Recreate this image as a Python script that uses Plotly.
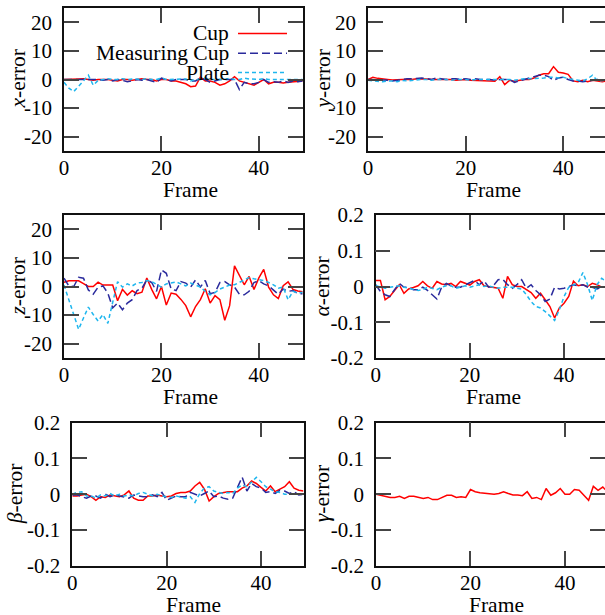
import plotly.graph_objects as go

# ---------------- data ----------------
frames = list(range(50))
series_names = ["Cup", "Measuring Cup", "Plate"]

x_cup = [0.0, 0.0, 0.0, 0.2, 0.3, 0.0, -0.3, 0.0, 0.0, 0.0, -0.3, -0.5, 0.0, 0.0, -0.3, 0.0, 0.3, 0.0, 0.0, -0.5,
         0.0, 0.0, -0.5, -0.5, -1.0, -1.5, -2.5, -2.3, 0.8, -0.5, -0.5, -1.0, -2.0, -1.5, -0.5, 1.0, -0.5, -1.0, -1.5, -2.0,
         -1.0, 0.0, -1.5, -1.0, -1.0, -1.2, -1.0, -0.8, -0.8, -0.5]
x_mcup = [0.0, 0.0, 0.0, -0.2, 0.0, 0.0, 0.0, 0.0, -0.3, 0.0, -0.5, 0.0, -0.3, -0.8, -0.5, 0.0, -0.3, 0.0, -0.5, -1.0,
          0.5, 0.0, -0.5, 0.0, 0.0, 0.0, -0.5, -0.5, 0.5, 0.0, -1.0, -0.5, 0.0, 0.0, 0.0, 0.0, -3.5, -1.0, -1.5, -1.5,
          -1.0, 0.0, -1.0, -0.8, -1.0, -0.5, -1.0, -0.5, -0.8, -0.5]
x_plate = [-1.0, -3.0, -4.2, -2.5, -0.5, 1.5, -2.0, -0.3, 0.0, 0.3, 0.0, 0.0, 0.3, 0.0, 0.2, 0.0, 0.0, 0.3, 0.0, 0.0,
           0.5, 0.0, 0.0, 0.0, 0.0, 0.2, -0.5, 0.0, 0.0, 0.5, 0.0, 0.0, 0.0, 0.0, 0.5, 0.0, 0.0, 0.5, 0.2, 0.0,
           0.0, 0.3, 0.0, 0.0, 0.0, 0.0, 0.0, 0.0, 0.0, 0.0]

y_cup = [0.0, 0.8, 0.4, 0.3, 0.0, -0.2, 0.0, 0.0, 0.0, 0.0, 0.3, 0.3, 0.2, 0.0, 0.0, 0.0, -0.2, 0.0, -0.3, -0.2,
         0.0, -0.3, -0.3, -0.3, -0.4, -0.5, -0.6, 1.0, -1.8, -0.3, -0.6, -0.3, 0.0, 0.0, 0.5, 1.5, 2.0, 2.0, 4.5, 2.5,
         2.3, 1.8, -0.5, -0.8, -0.3, -0.8, -0.3, -0.5, -0.8, -0.5]
y_mcup = [0.0, 0.0, 0.0, -0.2, -0.3, -0.5, -0.3, 0.0, 0.3, 0.3, 0.5, 0.5, 0.3, 0.0, 0.5, 0.3, 0.0, 0.3, 0.3, 0.0,
          0.3, 0.0, 0.3, 0.0, 0.0, 0.0, -0.3, 0.0, 0.0, 0.0, -1.0, -0.5, 0.0, 0.3, 0.8, 1.5, 1.5, 1.0, -0.3, 0.5,
          0.8, 0.0, -0.5, -0.5, -0.8, -0.5, -0.3, 0.0, -0.3, -0.3]
y_plate = [-0.3, -0.5, -0.8, -0.8, -0.5, -0.5, -0.8, -0.3, -0.5, -0.3, -0.3, 0.0, 0.0, -0.3, 0.0, 0.0, 0.0, -0.3, 0.0, 0.0,
           0.0, -0.3, 0.0, 0.0, 0.0, 0.0, 0.0, 0.0, 0.0, 0.0, -0.3, 0.0, 0.3, 0.3, 0.3, 0.5, 0.5, 0.8, 0.8, 0.5,
           0.8, 0.3, 0.0, -0.3, -0.5, 0.3, 1.5, -0.5, -0.3, -0.3]

z_cup = [1.5, 2.0, 2.0, 2.0, 1.0, 0.0, 0.0, 1.5, 0.5, 0.5, 0.5, -5.0, -1.0, -3.0, -1.5, -2.5, -2.0, 3.0, -1.0, -4.3,
         0.0, -6.5, -2.3, -2.7, -4.5, -6.7, -10.6, -7.0, -4.6, -0.8, -5.8, -3.2, -4.6, -11.8, -6.7, 7.2, 3.7, 0.6, 3.5, -1.0,
         3.0, 6.0, -0.2, -2.9, -4.2, 0.3, 1.6, -1.0, -1.6, -1.8]
z_mcup = [2.9, 0.2, 0.0, 3.2, 2.9, -1.2, -2.7, -0.2, 0.2, -2.3, -7.5, -5.8, -8.1, -5.8, -4.6, -1.4, -0.6, 2.3, 1.4, -1.7,
          5.8, 4.6, -0.9, -1.4, 1.7, 1.2, -0.2, 2.3, -0.2, 2.1, -2.5, -2.1, 1.4, 1.7, 0.6, -0.2, -2.7, -2.9, -1.7, 1.4,
          2.0, 0.9, 0.2, -1.4, -2.7, -0.9, -1.7, -1.4, -2.5, -2.5]
z_plate = [0.5, -4.6, -9.8, -15.0, -11.0, -7.2, -9.8, -12.1, -9.8, -12.9, -5.5, 1.7, -0.2, 0.9, 0.2, 1.2, 1.4, 2.1, 1.7, 0.6,
           -0.2, 0.9, 1.2, 1.6, 0.9, 0.2, 1.2, 0.6, -0.2, -1.7, -2.9, -2.1, -0.9, -0.2, 0.5, 0.6, 1.4, 2.3, 3.1, 2.7,
           2.3, 2.1, 1.4, 0.6, -0.6, -0.2, -4.6, -1.7, -2.3, -2.0]

a_cup = [0.017, 0.017, -0.037, -0.028, -0.011, 0.005, -0.019, -0.007, -0.003, 0.002, 0.014, 0.002, -0.005, 0.014, 0.007,
         0.005, 0.009, 0.0, 0.014, 0.009, 0.004, 0.014, 0.019, 0.002, 0.0, -0.002, -0.005, -0.033, 0.028, 0.005,
         0.0, 0.0, -0.009, -0.017, -0.033, -0.019, -0.037, -0.056, -0.088, -0.06, -0.047, -0.028, 0.015, 0.002, 0.005,
         0.0, 0.009, 0.005, -0.002, 0.0]
a_mcup = [0.005, -0.014, -0.023, -0.028, -0.009, 0.009, -0.002, -0.002, -0.009, -0.009, -0.002, -0.011, -0.023, -0.035,
          -0.002, 0.009, 0.002, -0.002, -0.002, 0.005, 0.011, 0.017, 0.005, 0.016, -0.002, 0.002, 0.019, 0.02, 0.005,
          -0.005, 0.005, 0.019, -0.005, 0.005, -0.011, -0.023, -0.042, -0.035, -0.002, -0.007, -0.005, 0.0, 0.005,
          0.002, 0.005, -0.002, -0.002, -0.007, -0.002, 0.0]
a_plate = [0.002, -0.002, -0.005, -0.002, 0.0, 0.002, -0.002, -0.005, -0.007, -0.011, -0.009, -0.002, -0.005, -0.009,
           -0.002, 0.002, 0.002, -0.005, -0.002, 0.002, -0.002, 0.002, 0.005, 0.0, 0.002, -0.002, -0.005, -0.002,
           -0.002, -0.002, -0.005, -0.007, -0.023, -0.042, -0.056, -0.06, -0.07, -0.082, -0.095, -0.065, -0.028,
           -0.002, 0.005, 0.011, 0.039, 0.005, -0.039, 0.005, 0.023, 0.014]

b_cup = [-0.005, -0.005, -0.002, 0.0, -0.007, -0.017, -0.007, -0.009, -0.002, -0.005, -0.007, -0.002, 0.009, -0.011,
         -0.017, -0.017, -0.005, -0.005, -0.002, -0.005, -0.007, -0.005, 0.002, 0.005, 0.005, 0.009, 0.023, 0.033,
         0.014, -0.019, -0.007, 0.002, 0.005, 0.007, 0.007, 0.007, 0.017, 0.023, 0.037, 0.03, 0.019, 0.009, 0.023,
         0.007, 0.014, 0.021, 0.035, 0.017, 0.011, 0.009]
b_mcup = [-0.002, -0.002, -0.007, -0.011, -0.005, -0.005, -0.011, 0.0, -0.007, -0.002, -0.005, -0.009, -0.011, -0.002,
          -0.005, -0.007, -0.007, -0.002, -0.007, 0.005, -0.017, -0.011, -0.005, -0.007, -0.007, 0.005, 0.0, -0.005,
          0.002, 0.009, -0.007, -0.005, -0.011, -0.014, -0.011, 0.021, 0.048, 0.009, 0.03, 0.021, 0.017, 0.005, 0.007,
          0.002, 0.011, 0.009, 0.002, 0.007, -0.002, 0.0]
b_plate = [0.0, 0.005, 0.007, -0.005, -0.005, -0.011, -0.002, -0.005, 0.002, -0.005, 0.0, -0.005, -0.002, -0.005, 0.002,
           0.005, 0.0, -0.005, 0.0, -0.005, -0.007, -0.009, -0.005, -0.007, -0.011, -0.007, -0.023, 0.002, 0.017,
           0.021, 0.009, 0.005, 0.002, 0.005, 0.002, 0.017, 0.026, 0.021, 0.033, 0.047, 0.035, 0.021, 0.014, 0.007,
           0.005, 0.0, 0.0, 0.0, -0.002, 0.0]

g_cup = [0.0, -0.003, -0.006, -0.009, -0.009, -0.006, -0.012, -0.006, -0.006, -0.009, -0.012, -0.009, -0.015, -0.015,
         -0.009, -0.003, -0.003, -0.009, -0.007, -0.009, 0.013, 0.007, 0.004, 0.002, 0.0, 0.0, 0.002, 0.007, 0.002,
         -0.002, -0.002, -0.004, 0.007, -0.012, -0.009, -0.015, 0.016, -0.003, 0.004, 0.016, 0.0, 0.0, 0.013, 0.011,
         -0.003, -0.017, 0.022, 0.011, 0.02, 0.007]

x_tickvals = [0, 20, 40]
x_ticktext = ["0", "20", "40"]
pos_tickvals = [-20, -10, 0, 10, 20]
pos_ticktext = ["-20", "-10", "0", "10", "20"]
ang_tickvals = [-0.2, -0.1, 0, 0.1, 0.2]
ang_ticktext = ["-0.2", "-0.1", "0", "0.1", "0.2"]

# ---------------- styling ----------------
W, H = 605, 615
FONT = "Liberation Serif, Times New Roman, serif"
FS = 21.5
FS_TICK = 21
colors = {"Cup": "#ff0000", "Measuring Cup": "#2a2a9c", "Plate": "#1eb6ee"}
dashes = {"Cup": "solid", "Measuring Cup": "8px,4px", "Plate": "4px,3px"}

# panel geometry in pixels: left, right, top, bottom, xmax, ytitle_x, xtitle_x
panels = [
    dict(title="<i>x</i>-error", data=[x_cup, x_mcup, x_plate], ang=False,
         geo=(64, 302.7, 8, 151, 49, 17, 190)),
    dict(title="<i>y</i>-error", data=[y_cup, y_mcup, y_plate], ang=False,
         geo=(368, 605, 8, 151, 48.55, 322, 493)),
    dict(title="<i>z</i>-error", data=[z_cup, z_mcup, z_plate], ang=False,
         geo=(64, 302.7, 215, 358, 49, 17, 190)),
    dict(title="<i>α</i>-error", data=[a_cup, a_mcup, a_plate], ang=True,
         geo=(375.7, 605, 215, 358, 48.7, 321, 493)),
    dict(title="<i>β</i>-error", data=[b_cup, b_mcup, b_plate], ang=True,
         geo=(72.3, 303.5, 422.7, 565.7, 49, 15, 193)),
    dict(title="<i>γ</i>-error", data=[g_cup], ang=True,
         geo=(376, 605, 422.7, 565.7, 48.47, 322, 497)),
]

fig = go.Figure()
layout = dict(template="none", width=W, height=H, autosize=False,
              margin=dict(l=0, r=0, t=0, b=0, pad=0, autoexpand=False),
              paper_bgcolor="white", plot_bgcolor="white", showlegend=False,
              font=dict(family=FONT, size=FS, color="black"))
annotations = []
shapes = []

axis_common = dict(showline=True, linecolor="#111", linewidth=1.5, mirror="ticks",
                   ticks="inside", ticklen=15, tickwidth=1.5, tickcolor="#444",
                   showgrid=False, zeroline=False, automargin=False,
                   tickfont=dict(family=FONT, size=FS_TICK, color="black"))

for i, p in enumerate(panels):
    n = "" if i == 0 else str(i + 1)
    left, right, top, bottom, xmax, ytx, xtx = p["geo"]
    xa = dict(axis_common, domain=[left / W, min(right / W, 1.0)], range=[0, xmax],
              tickvals=x_tickvals, ticktext=x_ticktext, anchor="y" + n, ticklabelstandoff=-3)
    if p["ang"]:
        ya = dict(axis_common, domain=[1 - bottom / H, 1 - top / H], range=[-0.2, 0.2],
                  tickvals=ang_tickvals, ticktext=ang_ticktext, anchor="x" + n, ticklabelstandoff=6)
    else:
        ya = dict(axis_common, domain=[1 - bottom / H, 1 - top / H], range=[-25, 25],
                  tickvals=pos_tickvals, ticktext=pos_ticktext, anchor="x" + n, ticklabelstandoff=6)
    layout["xaxis" + n] = xa
    layout["yaxis" + n] = ya
    for name, vals in zip(series_names, p["data"]):
        fig.add_trace(go.Scatter(x=frames, y=vals, mode="lines", name=name,
                                 xaxis="x" + n, yaxis="y" + n,
                                 line=dict(color=colors[name], width=1.5, dash=dashes[name])))
    annotations.append(dict(text=p["title"], xref="paper", yref="paper",
                            x=ytx / W, y=1 - (top + bottom) / 2 / H, textangle=-90,
                            xanchor="center", yanchor="middle", showarrow=False,
                            font=dict(family=FONT, size=FS, color="black")))
    annotations.append(dict(text="Frame", xref="paper", yref="paper",
                            x=xtx / W, y=1 - (bottom + 39) / H,
                            xanchor="center", yanchor="middle", showarrow=False,
                            font=dict(family=FONT, size=FS, color="black")))

# gnuplot-style key in the first panel: text right-aligned, line sample to the right
key_rows = [33.5, 53.3, 72.5]
for name, ky in zip(series_names, key_rows):
    annotations.append(dict(text=name, xref="paper", yref="paper", x=231 / W, y=1 - ky / H,
                            xanchor="right", yanchor="middle", showarrow=False,
                            font=dict(family=FONT, size=FS, color="black")))
    shapes.append(dict(type="line", xref="paper", yref="paper", x0=238 / W, x1=287 / W,
                       y0=1 - ky / H, y1=1 - ky / H,
                       line=dict(color=colors[name], width=1.5, dash=dashes[name])))

layout["annotations"] = annotations
layout["shapes"] = shapes
fig.update_layout(**layout)
fig.write_html("out.html", config={"displayModeBar": False},
               post_script="document.body.style.margin='0';")
